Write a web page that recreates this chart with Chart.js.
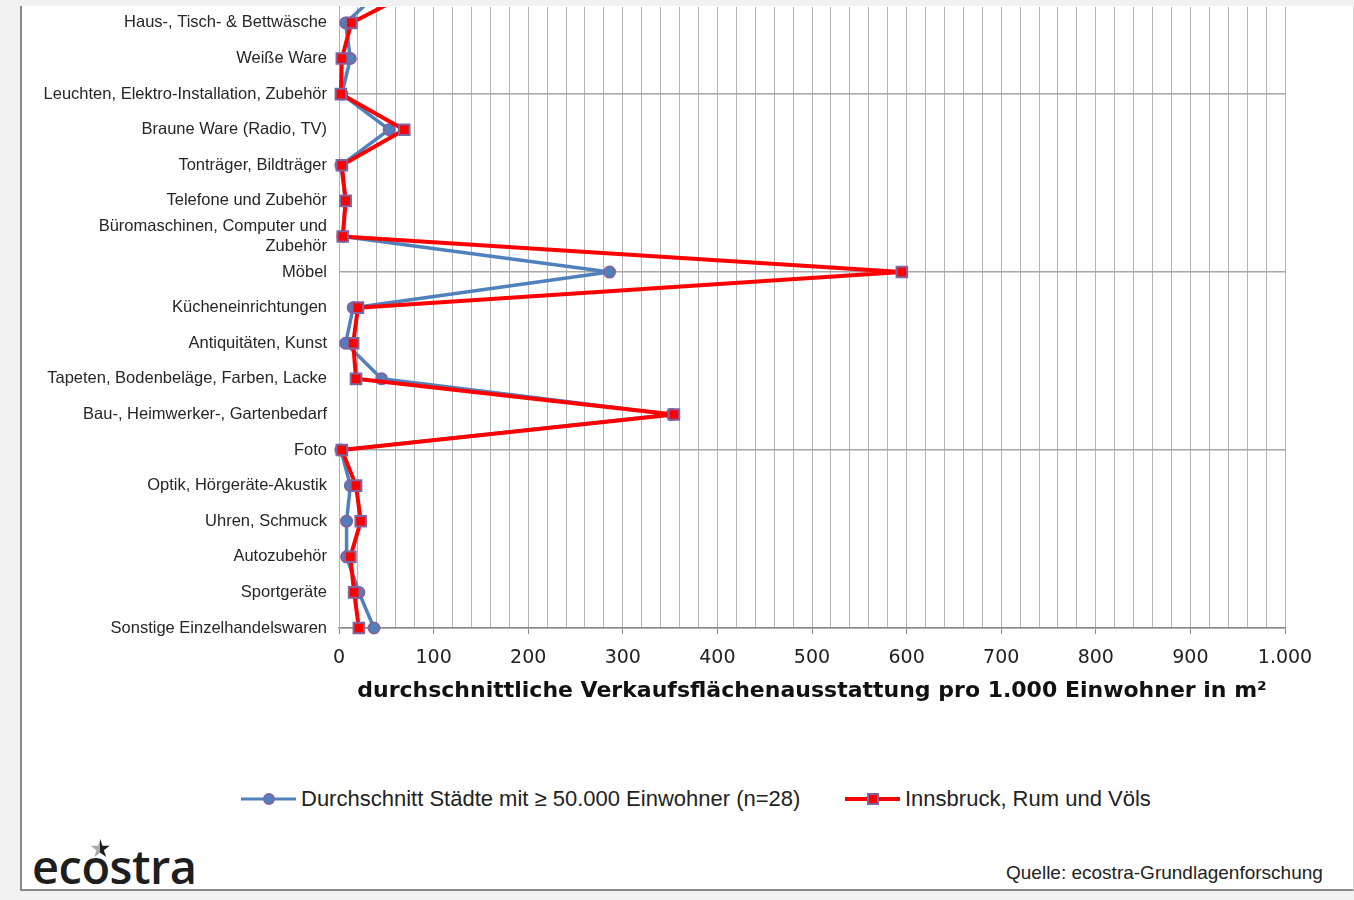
<!DOCTYPE html>
<html lang="de">
<head>
<meta charset="utf-8">
<title>Verkaufsflächenausstattung pro 1.000 Einwohner</title>
<script src="https://cdn.jsdelivr.net/npm/chart.js@4.4.1/dist/chart.umd.min.js"></script>
<style>
  html, body { margin: 0; padding: 0; }
  body { width: 1354px; height: 900px; background: #f1f1f1; position: relative; overflow: hidden;
         font-family: "Liberation Sans", Arial, sans-serif; color: #222; }
  #panel { position: absolute; left: 20px; top: 6px; width: 1331px; height: 883px; background: #fff;
           border-left: 2px solid #8a8a8a; border-bottom: 2px solid #8a8a8a; border-right: 1px solid #d8d8d8; }
  #chartBox { position: absolute; left: 0; top: -15px; width: 1354px; height: 735px; }
  .legend-item { position: absolute; top: 786px; height: 26px; display: flex; align-items: center;
                 font-size: 22px; white-space: nowrap; }
  .key { position: relative; width: 55px; height: 26px; margin-right: 5px; }
  .key .ln { position: absolute; left: 0; right: 0; top: 50%; transform: translateY(-50%); }
  .key .mk { position: absolute; left: 50%; top: 50%; transform: translate(-50%, -50%); box-sizing: border-box; }
  #source { position: absolute; left: 1006px; top: 862px; font-size: 19px; white-space: nowrap; }
  #logo { position: absolute; left: 32px; top: 836px; font-family: "Open Sans", sans-serif; font-weight: 600;
          font-size: 47px; letter-spacing: -0.5px; color: #1e1e1e; line-height: 60px; }
  #star { position: absolute; left: 89px; top: 836px; font-family: "DejaVu Sans", sans-serif; font-size: 25px;
          line-height: 25px; background: linear-gradient(90deg, #a8a8a8 50%, #1e1e1e 50%);
          -webkit-background-clip: text; background-clip: text; color: transparent; }
</style>
</head>
<body>
<div id="panel"></div>
<div id="chartBox"><canvas id="chart" width="1354" height="735"></canvas></div>

<div class="legend-item" id="legAvg" style="left:241px">
  <div class="key"><div class="ln" style="height:3px;background:#4F81BD"></div>
    <div class="mk" style="width:12px;height:12px;border-radius:50%;background:#4F81BD;border:2px solid #8064A2"></div></div>
  <span id="legAvgText"></span>
</div>
<div class="legend-item" id="legIbk" style="left:845px">
  <div class="key"><div class="ln" style="height:4px;background:#ff0000"></div>
    <div class="mk" style="width:12px;height:12px;background:#ff0000;border:2px solid #8064A2"></div></div>
  <span id="legIbkText"></span>
</div>

<div id="source">Quelle: ecostra-Grundlagenforschung</div>
<div id="star">★</div>
<div id="logo">ecostra</div>

<script>
// Sortimentsgruppen, von oben nach unten
const categories = [
  'Haus-, Tisch- & Bettwäsche',
  'Weiße Ware',
  'Leuchten, Elektro-Installation, Zubehör',
  'Braune Ware (Radio, TV)',
  'Tonträger, Bildträger',
  'Telefone und Zubehör',
  'Büromaschinen, Computer und\nZubehör',
  'Möbel',
  'Kücheneinrichtungen',
  'Antiquitäten, Kunst',
  'Tapeten, Bodenbeläge, Farben, Lacke',
  'Bau-, Heimwerker-, Gartenbedarf',
  'Foto',
  'Optik, Hörgeräte-Akustik',
  'Uhren, Schmuck',
  'Autozubehör',
  'Sportgeräte',
  'Sonstige Einzelhandelswaren'
];

// m² Verkaufsfläche pro 1.000 Einwohner
const avgCities = [7, 12, 3, 53, 2, 7, 4, 286, 15, 7, 45, 352, 2, 12, 8, 8, 21, 37];
const ibkRumVoels = [13, 3, 2, 69, 3, 7, 4, 595, 20, 15, 18, 354, 3, 18, 23, 12, 16, 21];

// Werte der vorangehenden Sortimentsgruppe (liegt oberhalb des Ausschnitts,
// nur das Verbindungsstück zur ersten Zeile ist sichtbar)
const avgRowAbove = 48;
const ibkRowAbove = 86;

const seriesNames = ['Durchschnitt Städte mit ≥ 50.000 Einwohner (n=28)', 'Innsbruck, Rum und Völs'];
const xTicks = [0, 100, 200, 300, 400, 500, 600, 700, 800, 900, 1000];
const xTitle = 'durchschnittliche Verkaufsflächenausstattung pro 1.000 Einwohner in m²';

document.getElementById('legAvgText').textContent = seriesNames[0];
document.getElementById('legIbkText').textContent = seriesNames[1];

const toPoints = (above, values) =>
  [{ x: above, y: -1 }].concat(values.map((v, i) => ({ x: v, y: i })));

const fmt = v => v.toLocaleString('de-DE');
const lastIdx = categories.length - 1;

new Chart(document.getElementById('chart'), {
  type: 'scatter',
  data: {
    datasets: [
      {
        label: seriesNames[0],
        data: toPoints(avgRowAbove, avgCities),
        showLine: true,
        borderColor: '#4F81BD',
        borderWidth: 3.5,
        borderJoinStyle: 'round',
        pointStyle: 'circle',
        pointRadius: 5.5,
        pointBackgroundColor: '#4F81BD',
        pointBorderColor: '#8064A2',
        pointBorderWidth: 2,
        clip: { left: 12, right: 12, top: 0, bottom: 12 },
        order: 2
      },
      {
        label: seriesNames[1],
        data: toPoints(ibkRowAbove, ibkRumVoels),
        showLine: true,
        borderColor: '#ff0000',
        borderWidth: 4,
        borderJoinStyle: 'round',
        pointStyle: 'rect',
        pointRadius: 7.5,
        pointBackgroundColor: '#ff0000',
        pointBorderColor: '#8064A2',
        pointBorderWidth: 2,
        clip: { left: 12, right: 12, top: 0, bottom: 12 },
        order: 1
      }
    ]
  },
  options: {
    responsive: false,
    animation: false,
    events: [],
    layout: { padding: { top: 6, right: 69, left: 0, bottom: 0 } },
    plugins: { legend: { display: false }, tooltip: { enabled: false } },
    scales: {
      x: {
        type: 'linear',
        min: 0,
        max: 1000,
        ticks: {
          stepSize: 20,
          autoSkip: false,
          maxRotation: 0,
          padding: 13,
          color: '#222',
          font: { family: "'DejaVu Sans', Verdana, sans-serif", size: 19 },
          callback: v => (xTicks.includes(v) ? fmt(v) : '')
        },
        grid: {
          color: '#b3b3b3',
          lineWidth: 1,
          tickLength: 6,
          tickColor: ctx => (ctx.tick && xTicks.includes(ctx.tick.value) ? '#8a8a8a' : 'rgba(0,0,0,0)')
        },
        border: { display: true, color: '#8a8a8a', width: 1.5 },
        title: {
          display: true,
          text: xTitle,
          color: '#111',
          font: { family: "'DejaVu Sans', Verdana, sans-serif", size: 22, weight: 'bold' },
          padding: { top: 0, bottom: 16 }
        },
        afterFit: s => { s.height = 92; }
      },
      y: {
        type: 'linear',
        reverse: true,
        min: -0.45,
        max: lastIdx,
        afterBuildTicks: s => { s.ticks = categories.map((_, i) => ({ value: i })); },
        ticks: {
          autoSkip: false,
          padding: 12,
          color: '#262626',
          font: { family: "'Liberation Sans', Arial, sans-serif", size: 16.5 },
          callback: v => (categories[v] !== undefined ? categories[v].split('\n') : '')
        },
        grid: {
          drawTicks: false,
          lineWidth: 1.5,
          color: ctx => (ctx.tick && (lastIdx - ctx.tick.value) % 5 === 0 ? '#a6a6a6' : 'rgba(0,0,0,0)')
        },
        border: { display: true, color: '#b3b3b3', width: 1 },
        afterFit: s => { s.width = 339; }
      }
    }
  }
});
</script>
</body>
</html>
